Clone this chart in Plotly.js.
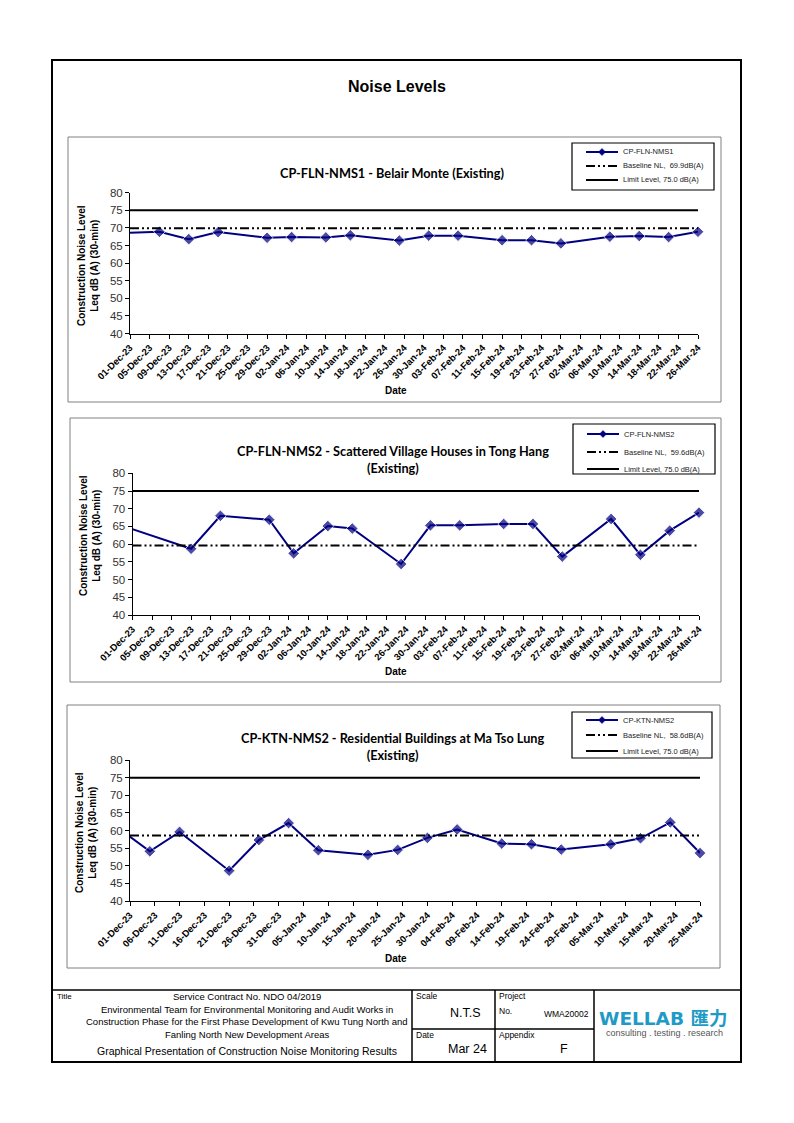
<!DOCTYPE html>
<html><head><meta charset="utf-8">
<script src="https://cdn.plot.ly/plotly-3.0.1.min.js"></script>
<style>html,body{margin:0;padding:0;background:#fff}#chart{width:794px;height:1123px}</style>
</head><body><div id="chart"></div>
<script>
// ---------- data ----------
const dates1 = ['2023-11-25','2023-12-07','2023-12-13','2023-12-19','2023-12-29','2024-01-03','2024-01-10','2024-01-15','2024-01-25','2024-01-31','2024-02-06','2024-02-15','2024-02-21','2024-02-27','2024-03-08','2024-03-14','2024-03-20','2024-03-26'];
const nms1   = [68.4, 68.9, 66.8, 68.8, 67.2, 67.4, 67.3, 67.9, 66.4, 67.8, 67.8, 66.5, 66.5, 65.6, 67.5, 67.7, 67.4, 68.9];

const dates2 = ['2023-11-25','2023-12-13','2023-12-19','2023-12-29','2024-01-03','2024-01-10','2024-01-15','2024-01-25','2024-01-31','2024-02-06','2024-02-15','2024-02-21','2024-02-27','2024-03-08','2024-03-14','2024-03-20','2024-03-26'];
const nms2   = [67.0, 58.7, 68.0, 66.9, 57.4, 65.1, 64.4, 54.4, 65.3, 65.3, 65.7, 65.7, 56.5, 67.1, 57.0, 63.8, 68.9];

const dates3 = ['2023-11-29','2023-12-05','2023-12-11','2023-12-21','2023-12-27','2024-01-02','2024-01-08','2024-01-18','2024-01-24','2024-01-30','2024-02-05','2024-02-14','2024-02-20','2024-02-26','2024-03-07','2024-03-13','2024-03-19','2024-03-25'];
const nms3   = [60.3, 54.1, 59.6, 48.6, 57.3, 62.1, 54.4, 53.1, 54.5, 57.9, 60.3, 56.3, 56.1, 54.6, 56.1, 57.8, 62.3, 53.6];

const stations = ['CP-FLN-NMS1', 'CP-FLN-NMS2', 'CP-KTN-NMS2'];
const titles = [
  'CP-FLN-NMS1 - Belair Monte (Existing)',
  'CP-FLN-NMS2 - Scattered Village Houses in Tong Hang<br>(Existing)',
  'CP-KTN-NMS2 - Residential Buildings at Ma Tso Lung<br>(Existing)'
];
const baselines = [69.9, 59.6, 58.6];
const baselineLabels = ['Baseline NL,  69.9dB(A)', 'Baseline NL,  59.6dB(A)', 'Baseline NL,  58.6dB(A)'];
const limitLevel = 75.0;
const limitLabel = 'Limit Level, 75.0 dB(A)';
const axisStart = ['2023-12-01', '2023-12-01', '2023-12-01'];
const axisEnd   = ['2024-03-26', '2024-03-26', '2024-03-25'];
const tickDays  = [4, 4, 5];
const seriesDates = [dates1, dates2, dates3];
const seriesVals  = [nms1, nms2, nms3];

// ---------- geometry helpers ----------
const W = 794, H = 1123;
const px = x => x / W;
const py = y => 1 - y / H;

const geo = [
  {x0:130,   x1:698, yTop:192.7, yBot:333.5, box:[68,137,721,402], title:[392,173],   ytitle:[88,266], date:[396,390],
   leg:{box:[572,143,714,190], rows:[152,166,180]}},
  {x0:132.5, x1:699, yTop:473.3, yBot:615,   box:[70,418,721,682], title:[393,459.5], ytitle:[90,536], date:[396,671.5],
   leg:{box:[573,424,715,474], rows:[434,452,469]}},
  {x0:130,   x1:700, yTop:760,   yBot:901,   box:[67,705,720,968], title:[392,746.5], ytitle:[86,833], date:[396,958],
   leg:{box:[572,712,712,758], rows:[720,735,751]}}
];

const NAVY = '#000080';
const DASHDOTDOT = '9px,3px,2px,3px,2px,3px';
const traces = [];
const layout = {
  width: W, height: H, autosize: false,
  margin: {l:0, r:0, t:0, b:0},
  paper_bgcolor: '#fff', plot_bgcolor: 'rgba(0,0,0,0)',
  showlegend: false,
  font: {family: 'Liberation Sans, Arial, sans-serif', color: '#000'},
  shapes: [], annotations: []
};

const L = (x0, y0, x1, y1, w, color, dash) => ({type: 'line', xref: 'paper', yref: 'paper',
  x0: px(x0), y0: py(y0), x1: px(x1), y1: py(y1), line: {color: color || '#000', width: w, dash: dash || 'solid'}});
const T = (x, y, text, size, opts = {}) => Object.assign({
  xref: 'paper', yref: 'paper', x: px(x), y: py(y), text, showarrow: false,
  xanchor: 'left', yanchor: 'middle',
  font: Object.assign({family: 'Liberation Sans, Arial, sans-serif', size, color: '#000'}, opts.font || {})
}, opts.a || {});

geo.forEach((g, i) => {
  const n = i + 1;
  const xa = n === 1 ? 'x' : 'x' + n;
  const ya = n === 1 ? 'y' : 'y' + n;
  const dts = seriesDates[i], vals = seriesVals[i];

  traces.push({
    type: 'scatter', mode: 'lines+markers', name: stations[i],
    x: dts, y: vals, xaxis: xa, yaxis: ya,
    cliponaxis: false,
    line: {color: NAVY, width: 2},
    marker: {symbol: 'diamond', color: NAVY, size: dts.map(d => d < axisStart[i] ? 0 : 9)},
    hoverinfo: 'skip'
  });
  traces.push({
    type: 'scatter', mode: 'lines', name: baselineLabels[i],
    x: [axisStart[i], axisEnd[i]], y: [baselines[i], baselines[i]],
    xaxis: xa, yaxis: ya,
    line: {color: '#000', width: 2, dash: DASHDOTDOT},
    hoverinfo: 'skip'
  });
  traces.push({
    type: 'scatter', mode: 'lines', name: limitLabel,
    x: [axisStart[i], axisEnd[i]], y: [limitLevel, limitLevel],
    xaxis: xa, yaxis: ya,
    line: {color: '#000', width: 2},
    hoverinfo: 'skip'
  });

  layout['xaxis' + (n === 1 ? '' : n)] = {
    type: 'date', domain: [px(g.x0), px(g.x1)], anchor: ya,
    range: [axisStart[i], axisEnd[i]],
    tick0: axisStart[i], dtick: tickDays[i] * 86400000,
    tickformat: '%d-%b-%y', tickangle: -45,
    tickfont: {family: 'Liberation Sans, Arial, sans-serif', size: 9.5, weight: 'bold', color: '#000'},
    ticks: 'outside', ticklen: 4, tickcolor: '#000',
    showline: true, linecolor: '#000', linewidth: 1,
    showgrid: false, zeroline: false, fixedrange: true
  };
  layout['yaxis' + (n === 1 ? '' : n)] = {
    domain: [py(g.yBot), py(g.yTop)], anchor: xa,
    range: [40, 80], dtick: 5,
    tickfont: {family: 'Liberation Sans, Arial, sans-serif', size: 11.5, color: '#333'},
    ticks: 'outside', ticklen: 4, tickcolor: '#000',
    showline: true, linecolor: '#000', linewidth: 1,
    showgrid: false, zeroline: false, fixedrange: true
  };

  // chart frame
  layout.shapes.push({type: 'rect', xref: 'paper', yref: 'paper',
    x0: px(g.box[0]), x1: px(g.box[2]), y0: py(g.box[3]), y1: py(g.box[1]),
    line: {color: '#808080', width: 1}});

  // legend (boxed key like the original)
  const lb = g.leg.box, r = g.leg.rows;
  const lx0 = lb[0] + 14, lx1 = lb[0] + 46, lxm = (lx0 + lx1) / 2, tx = lb[0] + 49;
  layout.shapes.push({type: 'rect', xref: 'paper', yref: 'paper',
    x0: px(lb[0]), x1: px(lb[2]), y0: py(lb[3]), y1: py(lb[1]),
    line: {color: '#000', width: 1.2}, fillcolor: '#fff', layer: 'above'});
  layout.shapes.push(Object.assign(L(lx0, r[0], lx1, r[0], 2, NAVY), {layer: 'above'}));
  layout.shapes.push({type: 'path', xref: 'paper', yref: 'paper', layer: 'above',
    path: `M ${px(lxm)},${py(r[0] - 3.5)} L ${px(lxm + 3.5)},${py(r[0])} L ${px(lxm)},${py(r[0] + 3.5)} L ${px(lxm - 3.5)},${py(r[0])} Z`,
    fillcolor: NAVY, line: {color: NAVY, width: 0.5}});
  layout.shapes.push(Object.assign(L(lx0, r[1], lx1, r[1], 2, '#000', DASHDOTDOT), {layer: 'above'}));
  layout.shapes.push(Object.assign(L(lx0, r[2], lx1, r[2], 2, '#000'), {layer: 'above'}));
  layout.annotations.push(T(tx, r[0], stations[i], 7.5, {font: {color: '#222'}}));
  layout.annotations.push(T(tx, r[1], baselineLabels[i].replace('  ', '&nbsp;&nbsp;'), 7.5, {font: {color: '#222'}}));
  layout.annotations.push(T(tx, r[2], limitLabel, 7.5, {font: {color: '#222'}}));

  // chart title
  layout.annotations.push({xref: 'paper', yref: 'paper', x: px(g.title[0]), y: py(g.title[1]),
    text: titles[i], showarrow: false, xanchor: 'center', yanchor: 'middle',
    font: {family: 'Lato, Open Sans, sans-serif', size: 12.7, weight: 'bold', color: '#000'}});
  // y title
  layout.annotations.push({xref: 'paper', yref: 'paper', x: px(g.ytitle[0]), y: py(g.ytitle[1]),
    text: 'Construction Noise Level<br>Leq dB (A) (30-min)', textangle: -90, showarrow: false,
    xanchor: 'center', yanchor: 'middle',
    font: {family: 'Liberation Sans, Arial, sans-serif', size: 10, weight: 'bold', color: '#000'}});
  // x title
  layout.annotations.push({xref: 'paper', yref: 'paper', x: px(g.date[0]), y: py(g.date[1]),
    text: 'Date', showarrow: false, xanchor: 'center', yanchor: 'middle',
    font: {family: 'Liberation Sans, Arial, sans-serif', size: 10, weight: 'bold', color: '#000'}});
});

// page frame & footer grid
layout.shapes.push({type: 'rect', xref: 'paper', yref: 'paper',
  x0: px(52), x1: px(741), y0: py(1062), y1: py(60), line: {color: '#000', width: 2}});
layout.shapes.push(L(52, 990, 741, 990, 1.5));
layout.shapes.push(L(412, 990, 412, 1062, 1.5));
layout.shapes.push(L(495, 990, 495, 1062, 1.5));
layout.shapes.push(L(594, 990, 594, 1062, 1.5));
layout.shapes.push(L(412, 1029, 594, 1029, 1.5));

layout.annotations.push(T(397, 86, 'Noise Levels', 16, {font: {weight: 'bold'}, a: {xanchor: 'center'}}));

const NARROW = 'Liberation Sans Narrow, Arial Narrow, Liberation Sans, sans-serif';
layout.annotations.push(T(55, 996, 'Title', 8));
layout.annotations.push(T(247, 996, 'Service Contract No. NDO 04/2019', 9.5, {font: {family: NARROW}, a: {xanchor: 'center'}}));
layout.annotations.push(T(247, 1009, 'Environmental Team for Environmental Monitoring and Audit Works in', 9.5, {font: {family: NARROW}, a: {xanchor: 'center'}}));
layout.annotations.push(T(247, 1021.5, 'Construction Phase for the First Phase Development of Kwu Tung North and', 9.5, {font: {family: NARROW}, a: {xanchor: 'center'}}));
layout.annotations.push(T(247, 1034, 'Fanling North New Development Areas', 9.5, {font: {family: NARROW}, a: {xanchor: 'center'}}));
layout.annotations.push(T(247, 1051, 'Graphical Presentation of Construction Noise Monitoring Results', 10.5, {font: {family: NARROW}, a: {xanchor: 'center'}}));

layout.annotations.push(T(414, 996, 'Scale', 8.5, {font: {family: NARROW}}));
layout.annotations.push(T(466, 1013, 'N.T.S', 12.5, {a: {xanchor: 'center'}}));
layout.annotations.push(T(414, 1035, 'Date', 8.5, {font: {family: NARROW}}));
layout.annotations.push(T(467, 1048.5, 'Mar 24', 12.5, {a: {xanchor: 'center'}}));
layout.annotations.push(T(497, 996, 'Project', 8.5, {font: {family: NARROW}}));
layout.annotations.push(T(497, 1011, 'No.', 8.5, {font: {family: NARROW}}));
layout.annotations.push(T(591, 1014, 'WMA20002', 8.5, {font: {family: NARROW}, a: {xanchor: 'right'}}));
layout.annotations.push(T(497, 1035, 'Appendix', 8.5, {font: {family: NARROW}}));
layout.annotations.push(T(564, 1049, 'F', 12.5, {a: {xanchor: 'center'}}));

layout.annotations.push(T(663, 1018, 'WELLAB 匯力', 18.5, {font: {family: 'DejaVu Sans, Noto Sans CJK TC, sans-serif', weight: 'bold', color: '#1f9ac6'}, a: {xanchor: 'center'}}));
layout.annotations.push(T(664, 1032.5, 'consulting . testing . research', 9, {font: {color: '#555'}, a: {xanchor: 'center'}}));

Plotly.newPlot('chart', traces, layout, {staticPlot: true, displayModeBar: false});
</script></body></html>
